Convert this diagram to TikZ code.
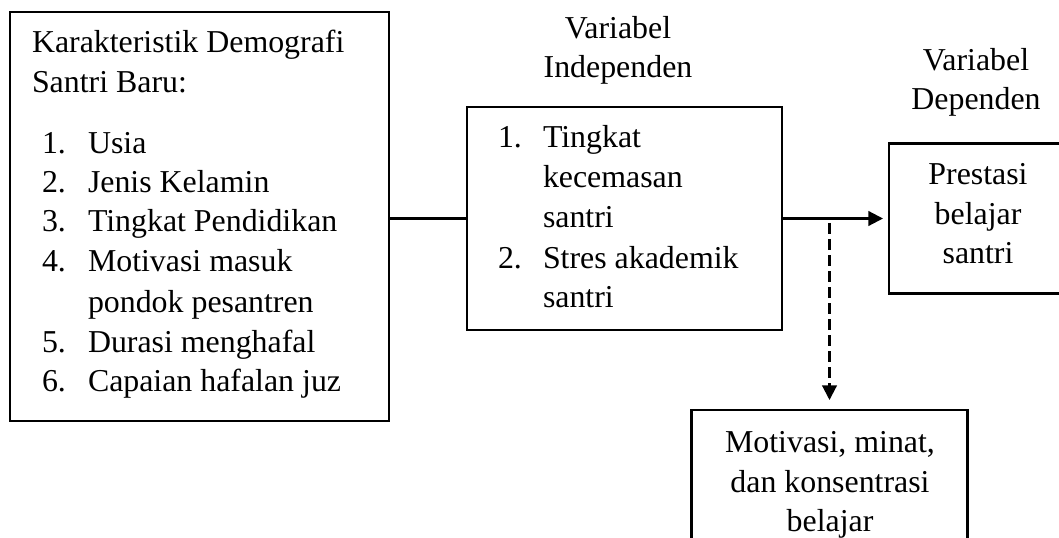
\documentclass[tikz,border=0pt]{standalone}
\usepackage{fontspec}
\setmainfont{Liberation Serif}
\usetikzlibrary{arrows.meta}
\newcommand{\pxu}{0.75pt}
\begin{document}
\begin{tikzpicture}[x=0.75pt,y=-0.75pt,
  box/.style={draw,line width=1.6pt,inner sep=0pt,outer sep=0pt},
  txt/.style={inner sep=0pt,outer sep=0pt,font=\fontsize{23.9}{29.6}\selectfont},
  tl/.style={txt,anchor=base west},
  tc/.style={txt,anchor=base},
  conn/.style={line width=1.6pt},
  tip/.style={-{Triangle[length=11pt,width=11pt]}}
]
\path[use as bounding box,clip] (0,0) rectangle (1059,538);
\fill[white] (0,0) rectangle (1059,538);

% boxes
\node[box,minimum width=379*\pxu,minimum height=409*\pxu] (left) at (199.5,216.5) {};
\node[box,minimum width=315*\pxu,minimum height=223*\pxu] (mid) at (624.5,218.5) {};
\node[box,minimum width=191*\pxu,minimum height=150*\pxu] (right) at (984.5,218.5) {};
\node[box,minimum width=276*\pxu,minimum height=160*\pxu] (bot) at (829.5,490) {};

% left box text
\node[tl] (l1) at (32,53) {Karakteristik Demografi};
\node[tl] (l2) at (32,93) {Santri Baru:};
\node[tl] (n1) at (42,154) {1.};
\node[tl] (t1) at (88,154) {Usia};
\node[tl] (n2) at (42,193) {2.};
\node[tl] (t2) at (88,193) {Jenis Kelamin};
\node[tl] (n3) at (42,232) {3.};
\node[tl] (t3) at (88,232) {Tingkat Pendidikan};
\node[tl] (n4) at (42,272) {4.};
\node[tl] (t4) at (88,272) {Motivasi masuk};
\node[tl] (t4b) at (88,312) {pondok pesantren};
\node[tl] (n5) at (42,352) {5.};
\node[tl] (t5) at (88,352) {Durasi menghafal};
\node[tl] (n6) at (42,391) {6.};
\node[tl] (t6) at (88,391) {Capaian hafalan juz};

% middle header and text
\node[tc] (h1a) at (618,39) {Variabel};
\node[tc] (h1b) at (618,78) {Independen};
\node[tl] (m1n) at (498,148) {1.};
\node[tl] (m1a) at (543,148) {Tingkat};
\node[tl] (m1b) at (543,188) {kecemasan};
\node[tl] (m1c) at (543,228) {santri};
\node[tl] (m2n) at (498,268) {2.};
\node[tl] (m2a) at (543,268) {Stres akademik};
\node[tl] (m2b) at (543,307) {santri};

% right header and text
\node[tc] (h2a) at (976,71) {Variabel};
\node[tc] (h2b) at (976,110) {Dependen};
\node[tc] (r1) at (978,185) {Prestasi};
\node[tc] (r2) at (978,224) {belajar};
\node[tc] (r3) at (978,263) {santri};

% bottom box text
\node[tc] (b1) at (830,452) {Motivasi, minat,};
\node[tc] (b2) at (830,492) {dan konsentrasi};
\node[tc] (b3) at (830,531) {belajar};

% connectors
\draw[conn] (left.east |- mid.west) -- (mid.west);
\draw[conn,tip,shorten >=4.5pt] (mid.east) -- (right.west);
\coordinate (d0) at (829.5,223);
\draw[conn,tip,dash pattern=on 8pt off 4pt,shorten >=7.5pt] (d0) -- (bot.north);
\end{tikzpicture}
\end{document}
